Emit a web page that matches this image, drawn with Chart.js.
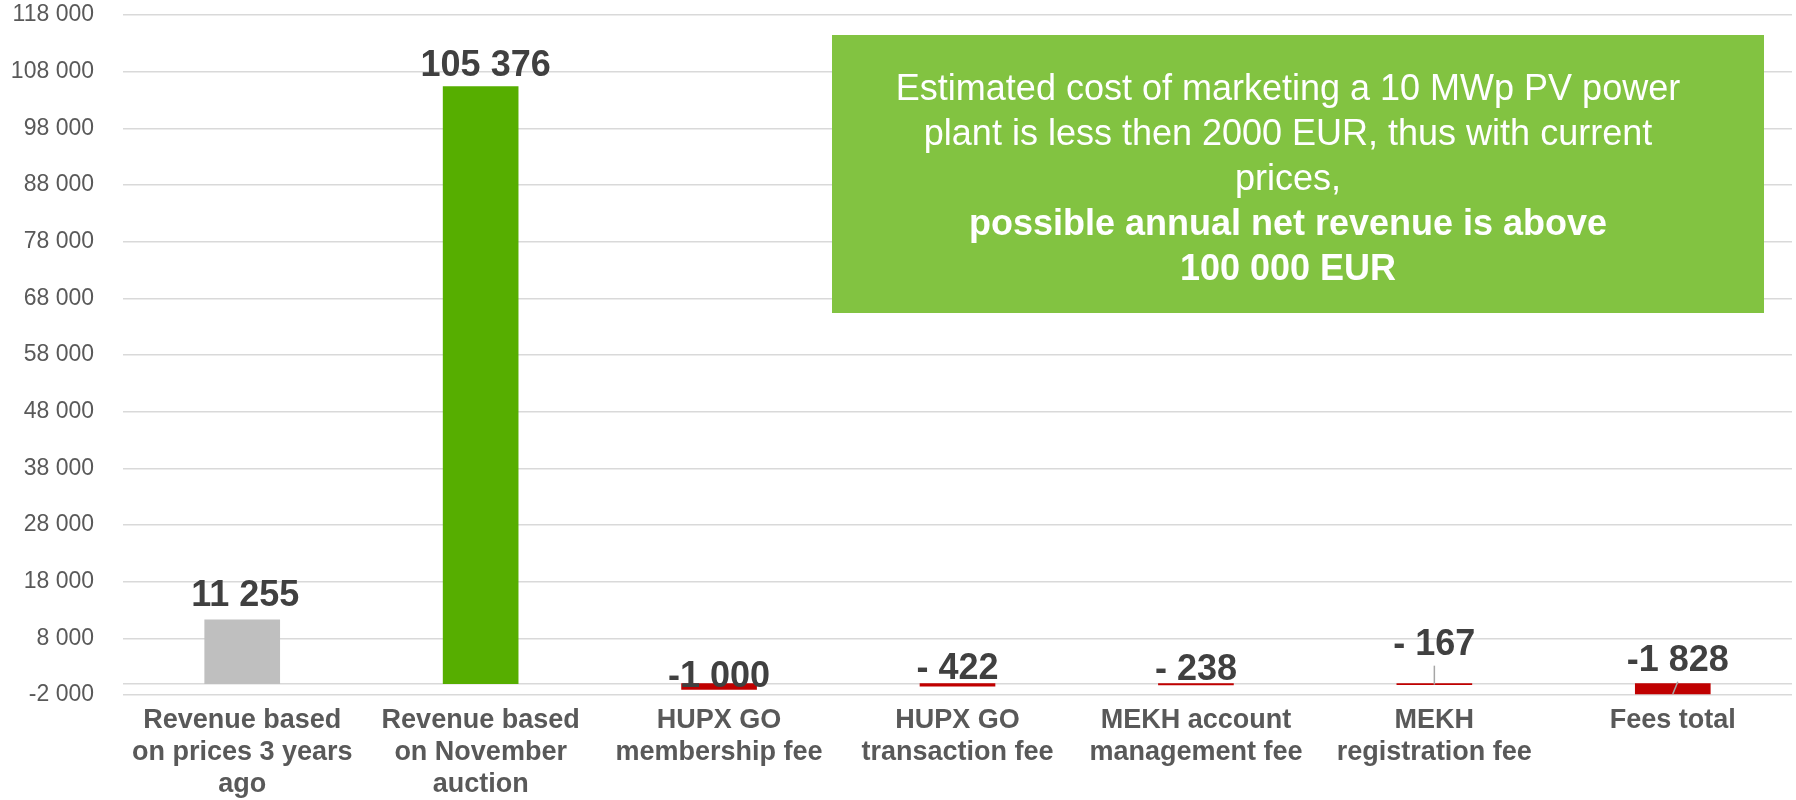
<!DOCTYPE html>
<html>
<head>
<meta charset="utf-8">
<script src="https://cdn.jsdelivr.net/npm/chart.js@4"></script>
<style>
  body { margin: 0; background: #fff; }
  #wrap { width: 1796px; height: 800px; }
</style>
</head>
<body>
<div id="wrap"><canvas id="feesChart"></canvas></div>
<script>
// Data
const categories = [
  ['Revenue based', 'on prices 3 years', 'ago'],
  ['Revenue based', 'on November', 'auction'],
  ['HUPX GO', 'membership fee'],
  ['HUPX GO', 'transaction fee'],
  ['MEKH account', 'management fee'],
  ['MEKH', 'registration fee'],
  ['Fees total']
];
const values = [11255, 105376, -1000, -422, -238, -167, -1828];
const yTicks = [-2000, 8000, 18000, 28000, 38000, 48000, 58000, 68000, 78000, 88000, 98000, 108000, 118000];
const noteLines = [
  'Estimated cost of marketing a 10 MWp PV power',
  'plant is less then 2000 EUR, thus with current',
  'prices,',
  'possible annual net revenue is above',
  '100 000 EUR'
];
const noteBold = [false, false, false, true, true];

// Styles
const barColors = ['#bfbfbf', '#56ae00', '#c00000', '#c00000', '#c00000', '#c00000', '#c00000'];
const labelLift = [24, 20, 7, 15, 14, 39, 23];   // px above bar top
const labelShift = [3, 5, 0, 0, 0, 0, 5];         // px sideways
const leader = [false, false, false, false, false, true, true];
const FONT = "'Liberation Sans', Arial, sans-serif";

function fmt(v) {
  const a = Math.abs(v);
  let s = String(a).replace(/\B(?=(\d{3})+(?!\d))/g, ' ');
  if (a < 1000) s = ' ' + s;
  return (v < 0 ? '-' : '') + s;
}

// zero line, value labels and the note box
const extras = {
  id: 'extras',
  beforeDatasetsDraw(chart) {
    const { ctx, chartArea, scales: { y } } = chart;
    const y0 = y.getPixelForValue(0);
    ctx.save();
    ctx.strokeStyle = '#d9d9d9';
    ctx.lineWidth = 1.5;
    ctx.beginPath();
    ctx.moveTo(chartArea.left, y0);
    ctx.lineTo(chartArea.right, y0);
    ctx.stroke();
    ctx.restore();
  },
  afterDatasetsDraw(chart) {
    const { ctx, scales: { y } } = chart;
    const meta = chart.getDatasetMeta(0);
    ctx.save();
    meta.data.forEach((bar, i) => {
      const v = values[i];
      const top = y.getPixelForValue(Math.max(v, 0));
      const lx = bar.x + labelShift[i];
      const ly = top - labelLift[i];
      if (leader[i]) {
        ctx.strokeStyle = '#a6a6a6';
        ctx.lineWidth = 1.5;
        ctx.beginPath();
        ctx.moveTo(lx, ly + 21);
        ctx.lineTo(bar.x, y.getPixelForValue(v));
        ctx.stroke();
      }
      ctx.fillStyle = '#404040';
      ctx.font = 'bold 36px ' + FONT;
      ctx.textAlign = 'center';
      ctx.textBaseline = 'middle';
      ctx.fillText(fmt(v), lx, ly);
    });

    // note box
    ctx.fillStyle = '#82c341';
    ctx.fillRect(832, 35, 932, 278);
    ctx.fillStyle = '#ffffff';
    ctx.textAlign = 'center';
    ctx.textBaseline = 'middle';
    noteLines.forEach((t, i) => {
      ctx.font = (noteBold[i] ? 'bold ' : '') + '36px ' + FONT;
      ctx.fillText(t, 1288, 90 + i * 45);
    });
    ctx.restore();
  }
};

new Chart(document.getElementById('feesChart'), {
  type: 'bar',
  data: {
    labels: categories,
    datasets: [{
      data: values,
      backgroundColor: barColors,
      borderWidth: 0,
      barThickness: 75
    }]
  },
  options: {
    responsive: true,
    maintainAspectRatio: false,
    animation: false,
    layout: { padding: { left: 11, right: 4, top: 15, bottom: 0 } },
    plugins: {
      legend: { display: false },
      tooltip: { enabled: false }
    },
    scales: {
      x: {
        grid: { display: false },
        border: { display: false },
        afterFit: s => {
          s.height = 105;
          s.paddingLeft = 0; s.paddingRight = 0; s.paddingTop = 0; s.paddingBottom = 0;
        },
        ticks: {
          color: '#595959',
          font: { family: FONT, size: 27, weight: 'bold', lineHeight: 1.2 },
          padding: 1,
          maxRotation: 0,
          autoSkip: false
        }
      },
      y: {
        min: -2000,
        max: 118000,
        afterBuildTicks: scale => { scale.ticks = yTicks.map(v => ({ value: v })); },
        afterFit: s => {
          s.width = 112;
          s.paddingLeft = 0; s.paddingRight = 0; s.paddingTop = 0; s.paddingBottom = 0;
        },
        grid: { color: '#d9d9d9', lineWidth: 1.5, drawTicks: false },
        border: { display: false },
        ticks: {
          color: '#595959',
          font: { family: FONT, size: 23 },
          padding: 29,
          callback: v => fmt(v)
        }
      }
    }
  },
  plugins: [extras]
});
</script>
</body>
</html>
